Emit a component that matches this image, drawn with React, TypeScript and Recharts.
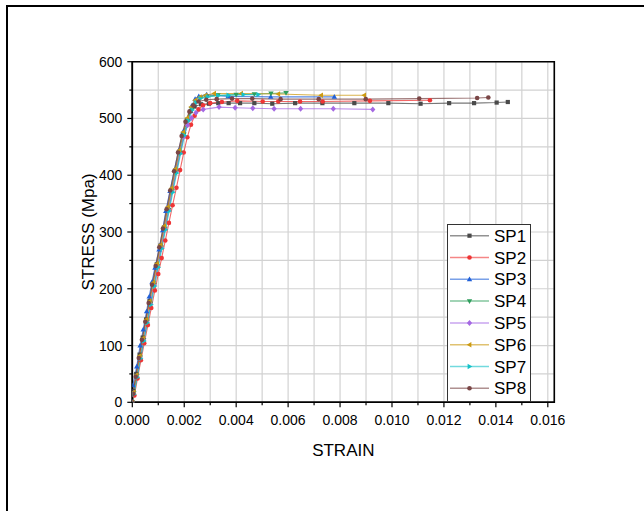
import React from 'react';
import { LineChart, Line, XAxis, YAxis, CartesianGrid, ReferenceArea, Legend } from 'recharts';

// ---- data (strain, stress in MPa) ----
const sp1Strain = [0, 0.00004, 0.00015, 0.00028, 0.0004, 0.00053, 0.00066, 0.0008, 0.00094, 0.00108, 0.00122, 0.00136, 0.0015, 0.00165, 0.0018, 0.00195, 0.0021, 0.00225, 0.0024, 0.00265, 0.00295, 0.00331, 0.00371, 0.00415, 0.0047, 0.00539, 0.00627, 0.00732, 0.00855, 0.00986, 0.0111, 0.0122, 0.01316, 0.01403, 0.01446];
const sp1Stress = [0, 20, 50, 84, 114, 146, 178, 210, 243, 276, 308, 341, 374, 408, 441, 472, 497, 513, 521, 525, 526, 527, 527, 527, 527, 526, 527, 527, 527, 527, 526, 527, 527, 528, 529];

const sp2Strain = [0, 0.00008, 0.0002, 0.00033, 0.00046, 0.0006, 0.00073, 0.00087, 0.001, 0.00113, 0.00127, 0.00141, 0.00155, 0.0017, 0.00184, 0.00198, 0.00212, 0.00226, 0.0024, 0.00255, 0.00272, 0.003, 0.00345, 0.00404, 0.00502, 0.00562, 0.00646, 0.00733, 0.00915, 0.01146];
const sp2Stress = [0, 12, 42, 74, 104, 136, 166, 197, 226, 254, 285, 316, 347, 378, 409, 440, 467, 489, 505, 516, 523, 527, 529, 531, 530, 530, 530, 530, 531, 532];

const sp3Strain = [0, 0.00002, 0.00017, 0.0003, 0.00042, 0.00055, 0.00065, 0.00076, 0.00087, 0.00103, 0.00117, 0.00129, 0.00145, 0.00162, 0.00178, 0.00196, 0.00212, 0.00228, 0.00242, 0.00256, 0.00286, 0.00369, 0.00533, 0.00778];
const sp3Stress = [0, 30, 63, 100, 128, 160, 186, 212, 237, 269, 303, 337, 372, 409, 443, 477, 499, 522, 534, 539, 542, 539, 538, 538];

const sp4Strain = [0, 0.00006, 0.00018, 0.00031, 0.00044, 0.00057, 0.0007, 0.00084, 0.00098, 0.00112, 0.00126, 0.0014, 0.00154, 0.00169, 0.00184, 0.00199, 0.00214, 0.00229, 0.00245, 0.00262, 0.00285, 0.0033, 0.004, 0.0047, 0.00534, 0.00592];
const sp4Stress = [0, 16, 46, 79, 110, 142, 174, 207, 240, 273, 306, 339, 372, 406, 440, 472, 497, 516, 529, 536, 539, 541, 542, 543, 544, 545];

const sp5Strain = [0, 0.00005, 0.00017, 0.0003, 0.00043, 0.00056, 0.00069, 0.00083, 0.00097, 0.00111, 0.00125, 0.00139, 0.00153, 0.00168, 0.00183, 0.00198, 0.00213, 0.00228, 0.00245, 0.00273, 0.00334, 0.00396, 0.00464, 0.00546, 0.00648, 0.00774, 0.00926];
const sp5Stress = [0, 16, 46, 79, 110, 142, 174, 207, 240, 273, 306, 339, 372, 406, 439, 468, 488, 501, 510, 516, 520, 519, 518, 517, 517, 517, 516];

const sp6Strain = [0, 0.00005, 0.00016, 0.00029, 0.00041, 0.00054, 0.00067, 0.00081, 0.00095, 0.00109, 0.00123, 0.00137, 0.00151, 0.00166, 0.00181, 0.00196, 0.00211, 0.00226, 0.00242, 0.0026, 0.00282, 0.00315, 0.00419, 0.00562, 0.00727, 0.00893];
const sp6Stress = [0, 18, 48, 82, 113, 146, 178, 211, 244, 277, 310, 344, 377, 411, 444, 476, 501, 520, 532, 538, 541, 544, 544, 543, 541, 541];

const sp7Strain = [0, 0.00006, 0.00019, 0.00032, 0.00045, 0.00058, 0.00072, 0.00086, 0.001, 0.00114, 0.00128, 0.00142, 0.00156, 0.00171, 0.00186, 0.00201, 0.00216, 0.00231, 0.00246, 0.00262, 0.0029, 0.0033, 0.0037, 0.00428, 0.00485];
const sp7Stress = [0, 14, 44, 77, 108, 140, 172, 205, 238, 271, 304, 337, 370, 404, 438, 470, 496, 515, 528, 535, 538, 540, 541, 542, 542];

const sp8Strain = [0, 0.00003, 0.00013, 0.00025, 0.00037, 0.0005, 0.00063, 0.00076, 0.0009, 0.00104, 0.00118, 0.00132, 0.00146, 0.00161, 0.00176, 0.0019, 0.00205, 0.0022, 0.00235, 0.00255, 0.00285, 0.00325, 0.00384, 0.00462, 0.00571, 0.00718, 0.00899, 0.01105, 0.01328, 0.01371];
const sp8Stress = [0, 15, 45, 78, 110, 142, 175, 207, 240, 273, 306, 340, 373, 407, 440, 469, 494, 512, 523, 530, 533, 534, 535, 535, 534, 534, 534, 535, 536, 537];

const seriesNames = ['SP1', 'SP2', 'SP3', 'SP4', 'SP5', 'SP6', 'SP7', 'SP8'];
const seriesColors = ['#4a4a4a', '#ee3535', '#2060d8', '#2f9e5c', '#a468e2', '#cc9a12', '#14c2c8', '#7a4646'];
const seriesShapes = ['square', 'circle', 'triUp', 'triDown', 'diamond', 'triLeft', 'triRight', 'circle'];

const xTicks = [0, 0.001, 0.002, 0.003, 0.004, 0.005, 0.006, 0.007, 0.008, 0.009, 0.01, 0.011, 0.012, 0.013, 0.014, 0.015, 0.016];
const yTicks = [0, 50, 100, 150, 200, 250, 300, 350, 400, 450, 500, 550, 600];

const xLabel = 'STRAIN';
const yLabel = 'STRESS (Mpa)';

const FONT = 'Arial, "Liberation Sans", Helvetica, sans-serif';
const X_MAX = 0.01625;

const toPoints = (strain: number[], stress: number[]) => strain.map((x, i) => ({ x, y: stress[i] }));

const seriesData = [
  toPoints(sp1Strain, sp1Stress),
  toPoints(sp2Strain, sp2Stress),
  toPoints(sp3Strain, sp3Stress),
  toPoints(sp4Strain, sp4Stress),
  toPoints(sp5Strain, sp5Stress),
  toPoints(sp6Strain, sp6Stress),
  toPoints(sp7Strain, sp7Stress),
  toPoints(sp8Strain, sp8Stress),
];

function MarkerShape({ cx, cy, shape, color }: { cx: number; cy: number; shape: string; color: string }) {
  if (cx == null || cy == null || isNaN(cx) || isNaN(cy)) return null;
  const s = 2.1;
  switch (shape) {
    case 'square':
      return <rect x={cx - s} y={cy - s} width={2 * s} height={2 * s} fill={color} />;
    case 'circle':
      return <circle cx={cx} cy={cy} r={s + 0.2} fill={color} />;
    case 'triUp':
      return <path d={`M${cx},${cy - 2.8}L${cx + 2.7},${cy + 1.9}L${cx - 2.7},${cy + 1.9}Z`} fill={color} />;
    case 'triDown':
      return <path d={`M${cx},${cy + 2.8}L${cx + 2.7},${cy - 1.9}L${cx - 2.7},${cy - 1.9}Z`} fill={color} />;
    case 'triLeft':
      return <path d={`M${cx - 2.8},${cy}L${cx + 1.9},${cy - 2.7}L${cx + 1.9},${cy + 2.7}Z`} fill={color} />;
    case 'triRight':
      return <path d={`M${cx + 2.8},${cy}L${cx - 1.9},${cy - 2.7}L${cx - 1.9},${cy + 2.7}Z`} fill={color} />;
    case 'diamond':
      return <path d={`M${cx},${cy - 3}L${cx + 2.6},${cy}L${cx},${cy + 3}L${cx - 2.6},${cy}Z`} fill={color} />;
    default:
      return <circle cx={cx} cy={cy} r={s} fill={color} />;
  }
}

const XTick = (props: any) => {
  const { x, y, payload } = props;
  const v = payload.value as number;
  const major = Math.round(v * 1000) % 2 === 0;
  return (
    <g>
      <line x1={x} x2={x} y1={y} y2={y + (major ? 5 : 3)} stroke="#000" strokeWidth={1.2} />
      {major && (
        <text x={x} y={y + 22.7} textAnchor="middle" fontSize={14} fontFamily={FONT} fill="#000">
          {v.toFixed(3)}
        </text>
      )}
    </g>
  );
};

const YTick = (props: any) => {
  const { x, y, payload } = props;
  const v = payload.value as number;
  const major = v % 100 === 0;
  return (
    <g>
      <line x1={x} x2={x - (major ? 5 : 3)} y1={y} y2={y} stroke="#000" strokeWidth={1.2} />
      {major && (
        <text x={x - 10} y={y + 5} textAnchor="end" fontSize={14} fontFamily={FONT} fill="#000">
          {v}
        </text>
      )}
    </g>
  );
};

const LegendBox = () => {
  const w = 84;
  const h = 178;
  return (
    <svg width={w} height={h} style={{ display: 'block' }}>
      <rect x={0.5} y={0.5} width={w - 1} height={h - 1} fill="#fff" stroke="#333" strokeWidth={1} />
      {seriesNames.map((name, i) => {
        const cy = 11.7 + i * 21.8;
        return (
          <g key={name}>
            <line x1={3} x2={42} y1={cy} y2={cy} stroke={seriesColors[i]} strokeOpacity={0.6} strokeWidth={1.5} />
            <MarkerShape cx={22.5} cy={cy} shape={seriesShapes[i]} color={seriesColors[i]} />
            <text x={47} y={cy + 6} fontSize={17} fontFamily={FONT} fill="#000">
              {name}
            </text>
          </g>
        );
      })}
    </svg>
  );
};

export default function App() {
  return (
    <div style={{ position: 'absolute', left: 0, top: 0, width: 644, height: 511, background: '#fff', overflow: 'hidden' }}>
      <div
        style={{
          position: 'absolute',
          left: 6,
          top: 5,
          width: 700,
          height: 600,
          borderTop: '2px solid #000',
          borderLeft: '2px solid #000',
          boxSizing: 'border-box',
        }}
      />
      <div style={{ position: 'absolute', left: 0, top: 0 }}>
        <LineChart width={644} height={511} margin={{ top: 61.7, right: 89.7, bottom: 78.7, left: 72.3 }}>
          <CartesianGrid stroke="#d2d2d2" strokeWidth={1.2} />
          <XAxis
            dataKey="x"
            type="number"
            domain={[0, X_MAX]}
            ticks={xTicks}
            allowDataOverflow
            height={30}
            tickSize={0}
            tickMargin={0}
            tickLine={false}
            tick={<XTick />}
            axisLine={{ stroke: '#000', strokeWidth: 1.5 }}
            interval={0}
            label={{
              content: (p: any) => {
                const vb = p.viewBox || {};
                return (
                  <text x={vb.x + vb.width / 2} y={vb.y + 54} textAnchor="middle" fontSize={17} fontFamily={FONT} fill="#000">
                    {xLabel}
                  </text>
                );
              },
            }}
          />
          <YAxis
            type="number"
            domain={[0, 600]}
            ticks={yTicks}
            allowDataOverflow
            width={60}
            tickSize={0}
            tickMargin={0}
            tickLine={false}
            tick={<YTick />}
            axisLine={{ stroke: '#000', strokeWidth: 1.5 }}
            interval={0}
            label={{
              content: (p: any) => {
                const vb = p.viewBox || {};
                const cx = vb.x + 16;
                const cy = vb.y + vb.height / 2;
                return (
                  <text
                    x={cx}
                    y={cy}
                    transform={`rotate(-90, ${cx}, ${cy})`}
                    textAnchor="middle"
                    dominantBaseline="central"
                    fontSize={17}
                    fontFamily={FONT}
                    fill="#000"
                  >
                    {yLabel}
                  </text>
                );
              },
            }}
          />
          <ReferenceArea x1={0} x2={X_MAX} y1={0} y2={600} fill="none" stroke="#000" strokeWidth={1.6} ifOverflow="visible" />
          {seriesData.map((data, i) => (
            <Line
              key={seriesNames[i]}
              data={data}
              dataKey="y"
              name={seriesNames[i]}
              type="linear"
              stroke={seriesColors[i]}
              strokeOpacity={0.75}
              strokeWidth={1.1}
              isAnimationActive={false}
              dot={(p: any) => (
                <MarkerShape key={`${seriesNames[i]}-${p.index}`} cx={p.cx} cy={p.cy} shape={seriesShapes[i]} color={seriesColors[i]} />
              )}
              activeDot={false}
            />
          ))}
          <Legend
            layout="vertical"
            align="center"
            verticalAlign="middle"
            wrapperStyle={{ left: 447, top: 224, width: 84, height: 178, margin: 0, padding: 0 }}
            content={() => <LegendBox />}
          />
        </LineChart>
      </div>
    </div>
  );
}
